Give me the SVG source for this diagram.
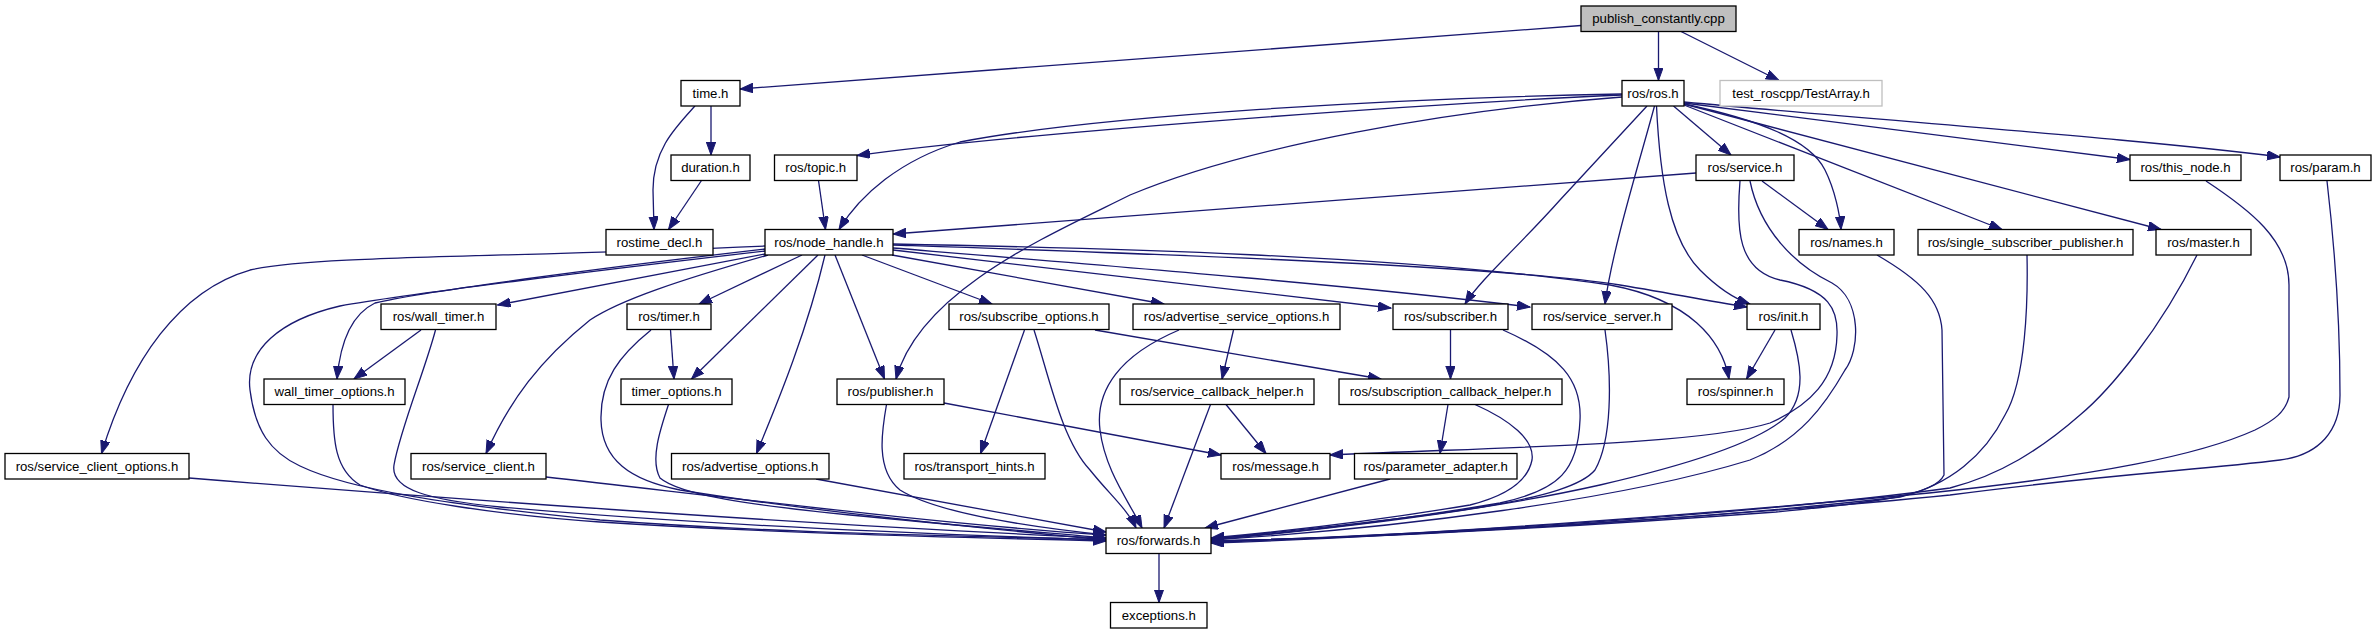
<svg xmlns="http://www.w3.org/2000/svg" width="2376" height="635" viewBox="0 0 2376 635">
<style>
.n rect{fill:#fff;stroke:#000;stroke-width:1.3}
.n text{font-family:"Liberation Sans",Arial,Helvetica,sans-serif;font-size:13.2px;fill:#000;text-anchor:middle}
#n_pc rect{fill:#bfbfbf}
#n_testarray rect{stroke:#bfbfbf}
.e path{fill:none;stroke:#191970;stroke-width:1.3;marker-end:url(#arr)}
</style>
<defs>
<marker id="arr" markerUnits="userSpaceOnUse" markerWidth="14" markerHeight="10" refX="13" refY="4.7" orient="auto">
<path d="M0,0 L13,4.7 L0,9.4 z" fill="#191970" stroke="#191970" stroke-width="1"/>
</marker>
</defs>
<rect width="2376" height="635" fill="#fff"/>
<g class="e" id="edges">
<path d="M1581,25.5 L740,89"/>
<path d="M1658.5,31.5 L1658.5,80.5"/>
<path d="M1681,31.5 L1779,80.5"/>
<path d="M711,106 L711,155"/>
<path d="M695,106 C675,128 653,150 653,190 L654,229.5"/>
<path d="M701.5,180.5 L668.5,229.5"/>
<path d="M818.5,180.5 L825.5,229.5"/>
<path d="M1622,95 C1400,105 1000,135 857,155.5"/>
<path d="M1622,94 C1400,98 1100,115 960,142 C900,160 860,195 839,229.5"/>
<path d="M1622,97 C1450,110 1250,145 1130,195 C1050,235 920,290 896,379"/>
<path d="M1647,106 L1560,200 C1520,245 1480,280 1465,304"/>
<path d="M1654.5,106 C1640,160 1612,250 1605,304"/>
<path d="M1656.5,106 C1660,180 1670,240 1700,270 C1720,290 1738,300 1750,304"/>
<path d="M1673.5,106 L1731,155"/>
<path d="M1684,104 C1760,120 1810,140 1825,170 C1835,190 1840,215 1841,229.5"/>
<path d="M1762,181 L1828,229.5"/>
<path d="M1684,105 L2002,229.5"/>
<path d="M1684,104 L2161,229.5"/>
<path d="M1684,103 L2130,159.5"/>
<path d="M1684,102 C1900,122 2150,140 2280,157"/>
<path d="M1696,173 L893,234"/>
<path d="M1740,181 C1736,230 1738,270 1780,280 C1830,290 1838,310 1837,335 C1836,380 1810,405 1770,423 C1700,445 1500,447 1330,455"/>
<path d="M1750,181 C1760,230 1795,265 1832,283 C1862,300 1860,350 1845,370 C1825,405 1800,440 1750,460 C1620,500 1400,528 1211,540"/>
<path d="M765,246 C500,258 320,255 250,270 C180,290 130,360 101.5,453.5"/>
<path d="M765,249 C600,268 420,292 375,303 C350,315 340,345 337,379"/>
<path d="M765,251 C600,270 400,295 340,306 C280,320 245,350 250,390 C255,430 270,452 300,466 C350,490 450,505 600,520 C800,535 1000,536 1106,540"/>
<path d="M765,254 L497.5,305"/>
<path d="M768,255 C680,280 620,300 590,320 C540,360 510,400 486,453.5"/>
<path d="M802,255 L699,304"/>
<path d="M818,255 L691.5,379"/>
<path d="M825,255 C805,340 770,420 756.5,453.5"/>
<path d="M835,255 L884.5,379"/>
<path d="M862,255 L992,304"/>
<path d="M892,255 L1164,304"/>
<path d="M893,250 L1391,308"/>
<path d="M893,248 C1100,265 1350,285 1530,307"/>
<path d="M893,245 C1100,252 1500,265 1620,285 C1680,295 1720,303 1747,307"/>
<path d="M893,244 C1100,248 1400,255 1610,285 C1690,300 1722,340 1729,379"/>
<path d="M421,330 L354,379"/>
<path d="M435.5,330 C425,370 400,430 394,465 C390,490 430,500 500,507 C700,525 950,535 1106,540"/>
<path d="M333,404.5 C333,440 335,470 360,485 C400,500 500,515 600,522 C800,535 1000,538 1106,541"/>
<path d="M189,478 C400,495 800,525 1106,538"/>
<path d="M546,477 C750,500 950,525 1106,535"/>
<path d="M670.5,330 L674,379"/>
<path d="M651,330 C620,355 600,380 601,420 C602,460 630,480 680,490 C800,510 1000,530 1106,540"/>
<path d="M668.5,404.5 C660,430 650,460 660,478 C680,495 750,505 850,515 C950,525 1050,533 1106,538"/>
<path d="M816,479 L1106,532"/>
<path d="M886.5,404.5 C882,430 875,470 900,490 C940,515 1040,528 1106,535"/>
<path d="M944,403 L1221,455"/>
<path d="M1024.5,330 L980.5,453.5"/>
<path d="M1034,330 C1050,380 1062,440 1090,470 C1110,495 1128,510 1136,528"/>
<path d="M1095,330 L1381,379"/>
<path d="M1233.5,330 L1222,379"/>
<path d="M1179,330 C1120,355 1095,390 1100,430 C1105,470 1128,500 1142,528"/>
<path d="M1226,404.5 L1266,453.5"/>
<path d="M1210.5,404.5 L1164,528"/>
<path d="M1450.5,330 L1450.5,379"/>
<path d="M1503,330 C1560,355 1582,380 1580,420 C1578,470 1560,490 1500,503 C1400,520 1300,532 1211,539"/>
<path d="M1605,330 C1612,380 1612,440 1595,470 C1570,500 1450,515 1211,539"/>
<path d="M1448,404.5 L1440,453.5"/>
<path d="M1475,404.5 C1510,420 1535,440 1532,460 C1528,480 1510,495 1470,505 C1380,520 1300,530 1211,538"/>
<path d="M1390,479 L1205,528"/>
<path d="M1775,330 L1746.5,379"/>
<path d="M1791,330 C1800,360 1808,395 1785,418 C1760,440 1700,462 1600,485 C1480,512 1320,530 1211,540"/>
<path d="M1877,255 C1920,280 1940,300 1942,330 L1944,475 C1935,495 1880,502 1776,512 C1600,525 1400,537 1211,541"/>
<path d="M2027,255 C2028,300 2026,380 2005,415 C1985,455 1950,485 1900,497 C1700,520 1400,537 1211,541"/>
<path d="M2197,255 C2160,330 2110,390 2080,415 C2040,450 2000,475 1950,488 C1750,515 1400,537 1211,541"/>
<path d="M2206,181 C2250,210 2289,240 2289,285 L2289,397 C2285,412 2275,420 2255,430 C2200,455 2100,475 1929,493 C1700,515 1400,537 1211,542"/>
<path d="M2327,181 C2335,250 2340,330 2340,395 C2340,430 2320,455 2280,460 C2200,470 2100,475 1950,495 C1750,515 1400,537 1211,543"/>
<path d="M1159,554 L1159,602.5"/>
</g>
<g class="n" id="n_pc"><rect x="1581" y="6" width="155" height="25.5"/><text x="1658.5" y="23.3">publish_constantly.cpp</text></g>
<g class="n" id="n_time"><rect x="681" y="80.5" width="59" height="25.5"/><text x="710.5" y="97.8">time.h</text></g>
<g class="n" id="n_ros"><rect x="1622" y="80.5" width="62" height="25.5"/><text x="1653" y="97.8">ros/ros.h</text></g>
<g class="n" id="n_testarray"><rect x="1720" y="80.5" width="162" height="25.5"/><text x="1801" y="97.8">test_roscpp/TestArray.h</text></g>
<g class="n" id="n_duration"><rect x="671" y="155" width="79" height="25.5"/><text x="710.5" y="172.3">duration.h</text></g>
<g class="n" id="n_topic"><rect x="774.5" y="155" width="82.5" height="25.5"/><text x="815.75" y="172.3">ros/topic.h</text></g>
<g class="n" id="n_service"><rect x="1696" y="155" width="98" height="25.5"/><text x="1745" y="172.3">ros/service.h</text></g>
<g class="n" id="n_this_node"><rect x="2130" y="155" width="111" height="25.5"/><text x="2185.5" y="172.3">ros/this_node.h</text></g>
<g class="n" id="n_param"><rect x="2280" y="155" width="91" height="25.5"/><text x="2325.5" y="172.3">ros/param.h</text></g>
<g class="n" id="n_rostime_decl"><rect x="606" y="229.5" width="107" height="25.5"/><text x="659.5" y="246.8">rostime_decl.h</text></g>
<g class="n" id="n_node_handle"><rect x="765" y="229.5" width="128" height="25.5"/><text x="829" y="246.8">ros/node_handle.h</text></g>
<g class="n" id="n_names"><rect x="1799" y="229.5" width="95" height="25.5"/><text x="1846.5" y="246.8">ros/names.h</text></g>
<g class="n" id="n_ssp"><rect x="1918" y="229.5" width="215" height="25.5"/><text x="2025.5" y="246.8">ros/single_subscriber_publisher.h</text></g>
<g class="n" id="n_master"><rect x="2156" y="229.5" width="95" height="25.5"/><text x="2203.5" y="246.8">ros/master.h</text></g>
<g class="n" id="n_wall_timer"><rect x="381" y="304" width="115" height="25.5"/><text x="438.5" y="321.3">ros/wall_timer.h</text></g>
<g class="n" id="n_timer"><rect x="627" y="304" width="84" height="25.5"/><text x="669" y="321.3">ros/timer.h</text></g>
<g class="n" id="n_subscribe_options"><rect x="949" y="304" width="160" height="25.5"/><text x="1029" y="321.3">ros/subscribe_options.h</text></g>
<g class="n" id="n_adv_srv_opts"><rect x="1133" y="304" width="207" height="25.5"/><text x="1236.5" y="321.3">ros/advertise_service_options.h</text></g>
<g class="n" id="n_subscriber"><rect x="1393" y="304" width="115" height="25.5"/><text x="1450.5" y="321.3">ros/subscriber.h</text></g>
<g class="n" id="n_service_server"><rect x="1532" y="304" width="140" height="25.5"/><text x="1602" y="321.3">ros/service_server.h</text></g>
<g class="n" id="n_init"><rect x="1747" y="304" width="73" height="25.5"/><text x="1783.5" y="321.3">ros/init.h</text></g>
<g class="n" id="n_wall_timer_options"><rect x="264" y="379" width="141" height="25.5"/><text x="334.5" y="396.3">wall_timer_options.h</text></g>
<g class="n" id="n_timer_options"><rect x="621" y="379" width="111" height="25.5"/><text x="676.5" y="396.3">timer_options.h</text></g>
<g class="n" id="n_publisher"><rect x="837" y="379" width="107" height="25.5"/><text x="890.5" y="396.3">ros/publisher.h</text></g>
<g class="n" id="n_srv_cb_helper"><rect x="1120" y="379" width="194" height="25.5"/><text x="1217" y="396.3">ros/service_callback_helper.h</text></g>
<g class="n" id="n_sub_cb_helper"><rect x="1339" y="379" width="223" height="25.5"/><text x="1450.5" y="396.3">ros/subscription_callback_helper.h</text></g>
<g class="n" id="n_spinner"><rect x="1687" y="379" width="97" height="25.5"/><text x="1735.5" y="396.3">ros/spinner.h</text></g>
<g class="n" id="n_srv_client_opts"><rect x="5" y="453.5" width="184" height="25.5"/><text x="97" y="470.8">ros/service_client_options.h</text></g>
<g class="n" id="n_srv_client"><rect x="411" y="453.5" width="135" height="25.5"/><text x="478.5" y="470.8">ros/service_client.h</text></g>
<g class="n" id="n_adv_opts"><rect x="671.5" y="453.5" width="157.5" height="25.5"/><text x="750.25" y="470.8">ros/advertise_options.h</text></g>
<g class="n" id="n_transport_hints"><rect x="904" y="453.5" width="141" height="25.5"/><text x="974.5" y="470.8">ros/transport_hints.h</text></g>
<g class="n" id="n_message"><rect x="1221" y="453.5" width="109" height="25.5"/><text x="1275.5" y="470.8">ros/message.h</text></g>
<g class="n" id="n_param_adapter"><rect x="1354.5" y="453.5" width="162.5" height="25.5"/><text x="1435.75" y="470.8">ros/parameter_adapter.h</text></g>
<g class="n" id="n_forwards"><rect x="1106" y="528" width="105" height="25.5"/><text x="1158.5" y="545.3">ros/forwards.h</text></g>
<g class="n" id="n_exceptions"><rect x="1110.5" y="602.5" width="96.5" height="25.5"/><text x="1158.75" y="619.8">exceptions.h</text></g>
</svg>
